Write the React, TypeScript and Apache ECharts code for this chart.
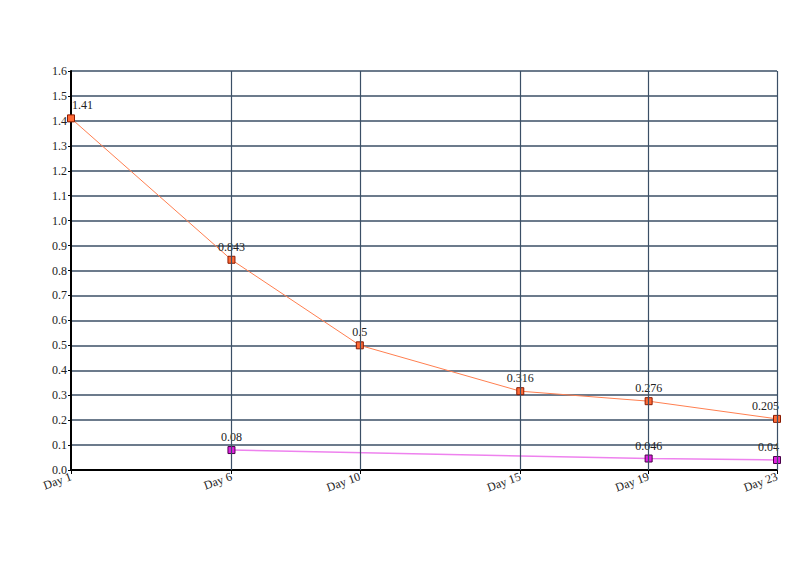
import React, { useEffect, useRef } from "react";
import * as echarts from "echarts";

const dayValues = [1, 6, 10, 15, 19, 23];
const dayLabels = ["Day 1", "Day 6", "Day 10", "Day 15", "Day 19", "Day 23"];
const seriesA = [1.41, 0.843, 0.5, 0.316, 0.276, 0.205];
const seriesBDays = [6, 19, 23];
const seriesB = [0.08, 0.046, 0.04];
const gridDays = [6, 10, 15, 19, 23];

export default function App() {
  const ref = useRef<HTMLDivElement>(null);
  useEffect(() => {
    if (!ref.current) return;
    const chart = echarts.init(ref.current, null, { renderer: "svg" });
    const labelMap: Record<number, string> = {};
    dayValues.forEach((d, i) => (labelMap[d] = dayLabels[i]));
    const font = "'Liberation Serif', 'DejaVu Serif', serif";
    const edgeLabel = (d: number) =>
      d === 1
        ? { align: "left", offset: [1, 0] }
        : d === 23
        ? { align: "right", offset: [2, 0] }
        : {};
    const mkData = (days: number[], vals: number[]) =>
      days.map((d, i) => ({ value: [d, vals[i]], label: edgeLabel(d) }));
    chart.setOption({
      animation: false,
      backgroundColor: "#ffffff",
      grid: { left: 71, right: 23, top: 71, bottom: 118, containLabel: false },
      xAxis: {
        type: "value",
        min: 1,
        max: 23,
        axisLine: { show: true, onZero: false, lineStyle: { color: "#000", width: 2 } },
        axisTick: { show: true, customValues: dayValues, length: 4, lineStyle: { color: "#000" } },
        splitLine: { show: false },
        axisLabel: {
          customValues: dayValues,
          formatter: (v: number) => labelMap[v] ?? "",
          rotate: 20,
          fontFamily: font,
          fontSize: 12,
          color: "#222",
          margin: 6,
        },
      },
      yAxis: {
        type: "value",
        min: 0,
        max: 1.6,
        interval: 0.1,
        axisLine: { show: true, lineStyle: { color: "#000", width: 2 } },
        axisTick: { show: true, length: 3, lineStyle: { color: "#000" } },
        splitLine: { show: true, lineStyle: { color: "#3b4f66", width: 1.5 } },
        axisLabel: {
          formatter: (v: number) => v.toFixed(1),
          fontFamily: font,
          fontSize: 12,
          color: "#222",
          margin: 4,
        },
      },
      series: [
        {
          type: "line",
          data: [],
          silent: true,
          markLine: {
            silent: true,
            symbol: "none",
            label: { show: false },
            lineStyle: { color: "#3b4f66", width: 1.2, type: "solid" },
            data: gridDays.map((d) => ({ xAxis: d })),
          },
        },
        {
          type: "line",
          data: mkData(dayValues, seriesA),
          symbol: "rect",
          symbolSize: 7,
          itemStyle: { color: "#ff6a35", borderColor: "#8a1a00", borderWidth: 1 },
          lineStyle: { color: "#ff7f50", width: 1 },
          label: {
            show: true,
            position: "top",
            distance: 3,
            fontFamily: font,
            fontSize: 12,
            color: "#222",
            formatter: (p: any) => String(p.value[1]),
          },
        },
        {
          type: "line",
          data: mkData(seriesBDays, seriesB),
          symbol: "rect",
          symbolSize: 7,
          itemStyle: { color: "#e020e0", borderColor: "#4a004a", borderWidth: 1 },
          lineStyle: { color: "#ee82ee", width: 1.5 },
          label: {
            show: true,
            position: "top",
            distance: 3,
            fontFamily: font,
            fontSize: 12,
            color: "#222",
            formatter: (p: any) => String(p.value[1]),
          },
        },
      ],
    });
    return () => chart.dispose();
  }, []);
  return <div ref={ref} style={{ width: 800, height: 588, position: "absolute", left: 0, top: 0 }} />;
}
